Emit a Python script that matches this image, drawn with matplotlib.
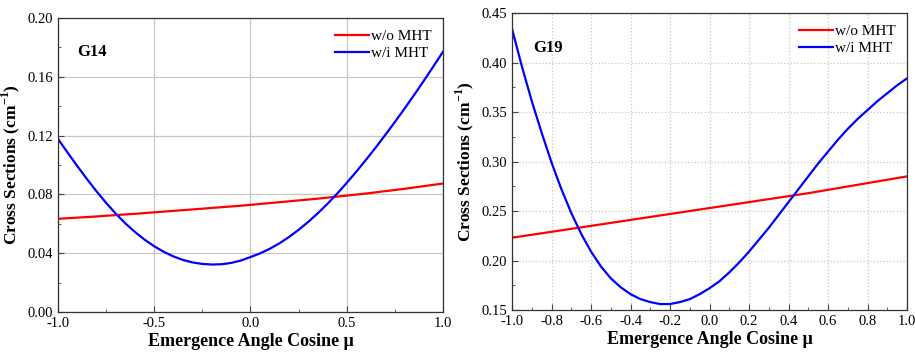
import matplotlib
matplotlib.use("Agg")
import matplotlib.pyplot as plt
from matplotlib.ticker import MultipleLocator

plt.rcParams["font.family"] = ["Liberation Serif", "DejaVu Serif"]
plt.rcParams["mathtext.fontset"] = "custom"
plt.rcParams["mathtext.rm"] = "Liberation Serif"
plt.rcParams["mathtext.bf"] = "Liberation Serif:bold"

# ---------------- DATA ----------------
mu = [-1.0, -0.95, -0.9, -0.85, -0.8, -0.75, -0.7, -0.65, -0.6, -0.55, -0.5,
      -0.45, -0.4, -0.35, -0.3, -0.25, -0.2, -0.15, -0.1, -0.05, 0.0,
      0.05, 0.1, 0.15, 0.2, 0.25, 0.3, 0.35, 0.4, 0.45, 0.5,
      0.55, 0.6, 0.65, 0.7, 0.75, 0.8, 0.85, 0.9, 0.95, 1.0]

g14_without = [0.0634, 0.0638, 0.0642, 0.0646, 0.0650, 0.0655, 0.0659, 0.0664, 0.0668, 0.0673, 0.0678,
               0.0683, 0.0688, 0.0693, 0.0698, 0.0703, 0.0708, 0.0713, 0.0718, 0.0723, 0.0729,
               0.0735, 0.0741, 0.0747, 0.0753, 0.0759, 0.0765, 0.0771, 0.0778, 0.0785, 0.0792,
               0.0799, 0.0806, 0.0814, 0.0822, 0.0830, 0.0838, 0.0847, 0.0856, 0.0865, 0.0874]
g14_with = [0.1177, 0.1084, 0.0993, 0.0905, 0.0821, 0.0742, 0.0669, 0.0603, 0.0544, 0.0492, 0.0447,
            0.0409, 0.0378, 0.0354, 0.0337, 0.0327, 0.0323, 0.0325, 0.0334, 0.0350, 0.0374,
            0.0399, 0.0430, 0.0467, 0.0510, 0.0559, 0.0613, 0.0672, 0.0736, 0.0805, 0.0878,
            0.0955, 0.1035, 0.1118, 0.1204, 0.1292, 0.1383, 0.1476, 0.1572, 0.1670, 0.1770]

g19_without = [0.223, 0.2245, 0.226, 0.2275, 0.229, 0.2305, 0.232, 0.2335, 0.235, 0.2365, 0.238,
               0.2395, 0.241, 0.2425, 0.244, 0.2455, 0.247, 0.2485, 0.250, 0.2515, 0.253,
               0.2545, 0.256, 0.2575, 0.259, 0.2605, 0.262, 0.2635, 0.265, 0.2665, 0.268,
               0.2697, 0.2714, 0.2731, 0.2748, 0.2765, 0.2782, 0.2799, 0.2816, 0.2833, 0.285]
g19_with = [0.434, 0.396, 0.361, 0.329, 0.299, 0.272, 0.248, 0.227, 0.209, 0.194, 0.182,
            0.173, 0.166, 0.161, 0.158, 0.156, 0.156, 0.158, 0.161, 0.166, 0.172,
            0.179, 0.188, 0.198, 0.209, 0.221, 0.233, 0.246, 0.259, 0.272, 0.285,
            0.298, 0.310, 0.322, 0.333, 0.343, 0.352, 0.361, 0.369, 0.377, 0.384]

labels = ["w/o MHT", "w/i MHT"]
colors = ["#ff0000", "#0000ff"]


def style_axis(ax, xmaj, xmin, ymaj, ymin, grid_ls):
    ax.xaxis.set_major_locator(MultipleLocator(xmaj))
    ax.xaxis.set_minor_locator(MultipleLocator(xmin))
    ax.yaxis.set_major_locator(MultipleLocator(ymaj))
    ax.yaxis.set_minor_locator(MultipleLocator(ymin))
    ax.tick_params(which="both", direction="in", labelsize=10.5, color="#444444")
    ax.tick_params(which="major", length=4)
    ax.tick_params(which="minor", length=2.5)
    ax.grid(True, which="major", color="#c8c8c8", linestyle=grid_ls, linewidth=0.9)
    for s in ax.spines.values():
        s.set_color("#333333")
        s.set_linewidth(0.9)
    ax.xaxis.set_major_formatter(plt.FormatStrFormatter("%.1f"))
    ax.yaxis.set_major_formatter(plt.FormatStrFormatter("%.2f"))
    ax.set_xlabel("Emergence Angle Cosine μ", fontsize=13, fontweight="bold", labelpad=2)
    ax.set_ylabel(r"Cross Sections (cm$^{\mathbf{-1}}$)", fontsize=12.5, fontweight="bold", labelpad=4)
    ax.legend(loc="upper right", frameon=False, fontsize=11, handlelength=2.2,
              handletextpad=0.15, borderaxespad=0.35, labelspacing=0.2)


fig = plt.figure(figsize=(9.15, 3.52), dpi=100)

# ---------------- G14 ----------------
ax1 = fig.add_axes([0.0634, 0.1136, 0.4207, 0.8353])
ax1.plot(mu, g14_without, color=colors[0], lw=1.6, label=labels[0])
ax1.plot(mu, g14_with, color=colors[1], lw=1.6, label=labels[1])
ax1.set_xlim(-1.0, 1.0)
ax1.set_ylim(0.0, 0.20)
style_axis(ax1, 0.5, 0.25, 0.04, 0.02, "-")
ax1.text(0.05, 0.87, "G14", transform=ax1.transAxes, fontsize=12, fontweight="bold")

# ---------------- G19 ----------------
ax2 = fig.add_axes([0.5596, 0.1193, 0.4317, 0.8437])
ax2.plot(mu, g19_without, color=colors[0], lw=1.6, label=labels[0])
ax2.plot(mu, g19_with, color=colors[1], lw=1.6, label=labels[1])
ax2.set_xlim(-1.0, 1.0)
ax2.set_ylim(0.15, 0.45)
style_axis(ax2, 0.2, 0.1, 0.05, 0.025, ":")
ax2.text(0.053, 0.87, "G19", transform=ax2.transAxes, fontsize=12, fontweight="bold")

fig.savefig("out.png", dpi=100, facecolor="white")
